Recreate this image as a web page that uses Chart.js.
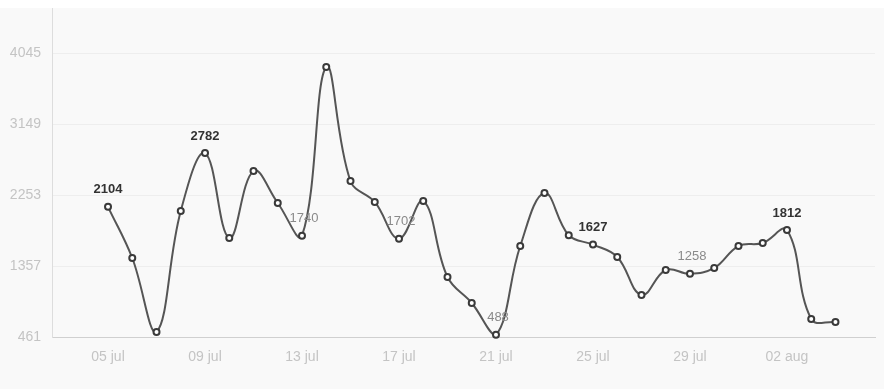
<!DOCTYPE html>
<html>
<head>
<meta charset="utf-8">
<script src="https://cdn.jsdelivr.net/npm/chart.js@4/dist/chart.umd.min.js"></script>
<style>
  html, body { margin: 0; padding: 0; background: #ffffff; }
  #wrap { width: 884px; height: 389px; }
</style>
</head>
<body>
<div id="wrap"><canvas id="c" width="884" height="389"></canvas></div>
<script>
const dates = ["05 jul","06 jul","07 jul","08 jul","09 jul","10 jul","11 jul","12 jul","13 jul","14 jul",
  "15 jul","16 jul","17 jul","18 jul","19 jul","20 jul","21 jul","22 jul","23 jul","24 jul",
  "25 jul","26 jul","27 jul","28 jul","29 jul","30 jul","31 jul","01 aug","02 aug","03 aug","04 aug"];
const values = [2104,1458,524,2051,2782,1710,2556,2152,1740,3868,
  2430,2165,1702,2177,1218,890,488,1609,2278,1745,
  1627,1471,991,1307,1258,1332,1609,1647,1812,688,650];
const yTicks = [461,1357,2253,3149,4045];
const xTickIdx = [0,4,8,12,16,20,24,28];
const labelIdx = [0,4,8,12,16,20,24,28];

const bgPlugin = {
  id: 'bg',
  beforeDraw(chart) {
    const ctx = chart.ctx;
    ctx.save();
    ctx.fillStyle = '#ffffff';
    ctx.fillRect(0, 0, chart.width, chart.height);
    ctx.fillStyle = '#f9f9f9';
    ctx.fillRect(0, 8, chart.width, chart.height - 8);
    ctx.restore();
  }
};

const valueLabels = {
  id: 'valueLabels',
  afterDatasetsDraw(chart) {
    const ctx = chart.ctx;
    const meta = chart.getDatasetMeta(0);
    ctx.save();
    ctx.textAlign = 'center';
    ctx.textBaseline = 'middle';
    labelIdx.forEach(i => {
      const p = meta.data[i];
      const prev = i > 0 ? values[i - 1] : Infinity;
      const next = i < values.length - 1 ? values[i + 1] : Infinity;
      const trough = values[i] < prev && values[i] < next;
      ctx.font = (trough ? '' : 'bold ') + '13px "Liberation Sans", Arial, sans-serif';
      ctx.fillStyle = trough ? '#8a8a8a' : '#333333';
      ctx.fillText(String(values[i]), p.x + (trough ? 2 : 0), p.y - 17);
    });
    ctx.restore();
  }
};

new Chart(document.getElementById('c'), {
  type: 'line',
  data: {
    datasets: [{
      data: values.map((v, i) => ({ x: i, y: v })),
      borderColor: '#555555',
      borderWidth: 2,
      tension: 0.4,
      pointRadius: 3,
      pointBorderWidth: 2,
      pointBackgroundColor: '#ffffff',
      pointBorderColor: '#3a3a3a',
      clip: false
    }]
  },
  options: {
    responsive: false,
    animation: false,
    layout: { padding: { top: 8, right: 9, left: 0, bottom: 0 } },
    plugins: { legend: { display: false }, tooltip: { enabled: false } },
    scales: {
      x: {
        type: 'linear',
        min: -2.31,
        max: 31.63,
        afterBuildTicks(scale) { scale.ticks = xTickIdx.map(v => ({ value: v })); },
        afterFit(scale) { scale.height = 52; },
        grid: { display: false, drawTicks: false },
        border: { display: true, color: '#d0d0d0', width: 1 },
        ticks: {
          color: '#c4c4c4',
          font: { size: 14, family: '"Liberation Sans", Arial, sans-serif' },
          padding: 12,
          maxRotation: 0,
          autoSkip: false,
          callback: (v) => dates[v]
        }
      },
      y: {
        min: 461,
        max: 4613,
        afterBuildTicks(scale) { scale.ticks = yTicks.map(v => ({ value: v })); },
        afterFit(scale) { scale.width = 52; scale.paddingTop = 0; scale.paddingBottom = 0; },
        grid: { color: '#eeeeee', drawTicks: false },
        border: { display: true, color: '#dddddd', width: 1 },
        ticks: {
          color: '#c4c4c4',
          font: { size: 14, family: '"Liberation Sans", Arial, sans-serif' },
          padding: 11,
          callback: (v) => String(v)
        }
      }
    }
  },
  plugins: [bgPlugin, valueLabels]
});
</script>
</body>
</html>
